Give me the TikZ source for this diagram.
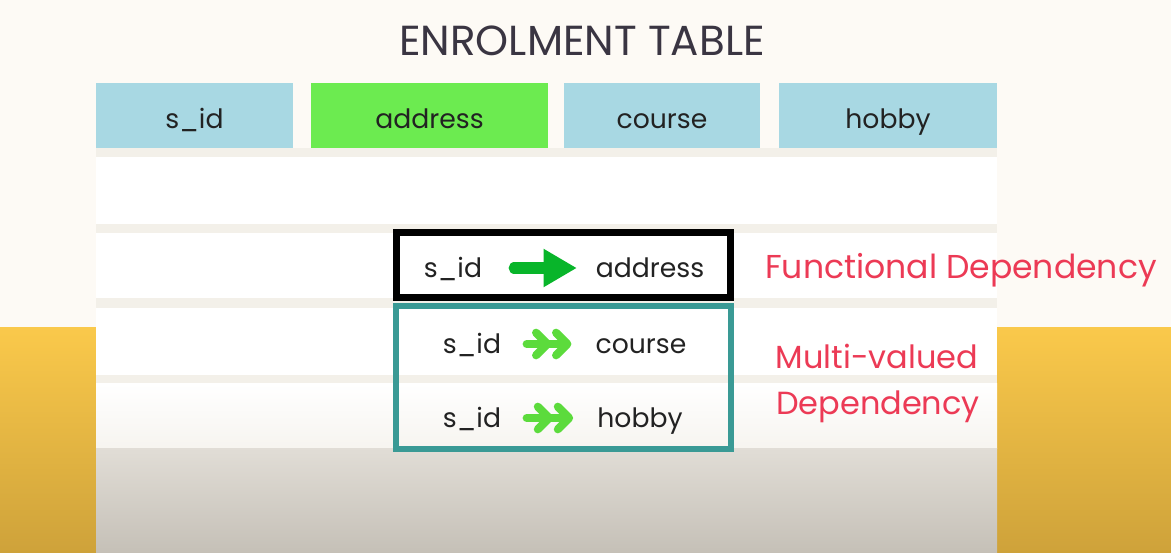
\documentclass[tikz,border=0pt]{standalone}
\usepackage{fontspec}
\setmainfont{Poppins}
\usetikzlibrary{arrows.meta,positioning}
\definecolor{EnrCream}{HTML}{FDFAF5}
\definecolor{EnrStrip}{HTML}{F3F0E9}
\definecolor{EnrBlue}{HTML}{A8D8E3}
\definecolor{EnrGreen}{HTML}{6CEB50}
\definecolor{EnrArrow}{HTML}{08B52A}
\definecolor{EnrLime}{HTML}{5CDB3C}
\definecolor{EnrTeal}{HTML}{3A9A95}
\definecolor{EnrRed}{HTML}{EC3A55}
\definecolor{EnrInk}{HTML}{222222}
\definecolor{EnrTitle}{HTML}{3A3542}
\definecolor{EnrGold}{HTML}{FAC94B}
\definecolor{EnrGoldDark}{HTML}{CEA23A}
\definecolor{EnrGray}{HTML}{E1DDD6}
\definecolor{EnrGrayDark}{HTML}{C5C0B7}

\begin{document}
\begin{tikzpicture}[
    x=0.75pt, y=-0.75pt,
    hdr/.style={fill=EnrBlue, minimum height=65*0.75pt, inner sep=0pt,
      text height=22pt, text depth=3pt, text=EnrInk, font=\fontsize{20}{24}\selectfont},
    cell/.style={inner sep=0pt, text height=16pt, text depth=2.5pt, text=EnrInk,
      font=\fontsize{20}{24}\selectfont},
    note/.style={text=EnrRed, inner sep=0pt, font=\fontsize{24}{28}\selectfont},
    fdarr/.style={line width=8.5pt, line cap=round, color=EnrArrow,
      -{Triangle[length=25pt, width=27pt]}, shorten <=24pt, shorten >=14pt},
    mvarr/.style={line width=6pt, line cap=round, color=EnrLime,
      -{Straight Barb[round, length=8.5pt, width=17pt, sep=0.5pt]Straight Barb[round, length=8.5pt, width=17pt]},
      shorten <=19pt, shorten >=18pt}
  ]
    \fill[EnrCream] (0,0) rectangle (1171,553);
    \shade[top color=EnrGold, bottom color=EnrGoldDark] (0,327) rectangle (96,553);
    \shade[top color=EnrGold, bottom color=EnrGoldDark] (997,327) rectangle (1171,553);
    \fill[EnrStrip] (96,148) rectangle (997,448);
    \fill[white] (96,157) rectangle (997,224);
    \fill[white] (96,233) rectangle (997,298);
    \fill[white] (96,308) rectangle (997,375);
    \shade[top color=white, bottom color=EnrStrip!70] (96,383) rectangle (997,448);
    \shade[top color=EnrGray, bottom color=EnrGrayDark] (96,448) rectangle (997,553);

    \node[text=EnrTitle, font=\fontsize{31.5}{36}\selectfont, anchor=base] (title) at (582,55) {ENROLMENT TABLE};

    \node[hdr, minimum width=197*0.75pt] (sid) at (194.5,115.5) {s\_id};
    \node[hdr, fill=EnrGreen, minimum width=237*0.75pt] (address) at (429.5,115.5) {address};
    \node[hdr, minimum width=196*0.75pt] (course) at (662,115.5) {course};
    \node[hdr, minimum width=218*0.75pt] (hobby) at (888,115.5) {hobby};

    \node[cell, anchor=base] (fdsrc) at (453,277) {s\_id};
    \node[cell, anchor=base] (fdtgt) at (650,277) {address};
    \node[cell, anchor=base] (mvsrcA) at (472,353) {s\_id};
    \node[cell, anchor=base] (mvtgtA) at (641,353) {course};
    \node[cell, anchor=base] (mvsrcB) at (472,427) {s\_id};
    \node[cell, anchor=base] (mvtgtB) at (640,427) {hobby};

    \draw[line width=7*0.75pt] (396.5,232.5) rectangle (730.5,297.5);
    \draw[EnrTeal, line width=6*0.75pt] (396,306) rectangle (731,449);

    \draw[fdarr] (fdsrc) -- (fdtgt);
    \draw[mvarr] (mvsrcA) -- (mvtgtA);
    \draw[mvarr] (mvsrcB) -- (mvtgtB);

    \node[note, font=\fontsize{24.8}{28}\selectfont, anchor=base] (fdnote) at (961,278) {Functional Dependency};
    \node[note, anchor=base] (mvnote) at (877,368) {Multi-valued};
    \node[note, anchor=base] (mvnoteB) at (878,414) {Dependency};
  \end{tikzpicture}
\end{document}
